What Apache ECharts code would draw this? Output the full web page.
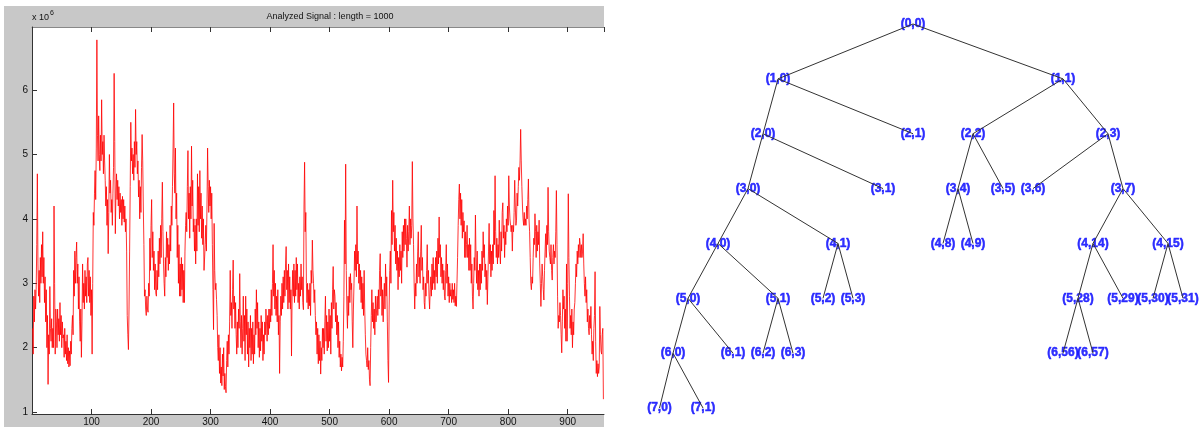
<!DOCTYPE html>
<html>
<head>
<meta charset="utf-8">
<script src="https://cdn.jsdelivr.net/npm/echarts@6/dist/echarts.min.js"></script>
<style>
  html, body { margin: 0; padding: 0; background: #fff; }
  #main { width: 1204px; height: 427px; }
</style>
</head>
<body>
<div id="main"></div>
<script>
// signal values (x 10^6), one per sample starting at sample 1
var signal = [
  2.3,1.9,2.8,2.4,2.9,2.6,2.9,3.6,4.7,3.3,2.8,3.2,2.7,3.4,3.0,3.6,3.1,3.8,3.0,3.4,
  2.7,3.1,2.4,2.9,2.0,2.5,1.43,2.2,1.9,2.95,2.3,
  2.1,2.45,2.0,2.3,2.0,4.2,3.0,1.9,2.6,
  2.4,2.0,2.6,2.2,2.45,2.1,2.7,2.2,2.5,2.0,2.4,2.15,
  2.2,1.85,2.3,1.9,2.1,1.8,2.2,1.75,2.0,1.7,1.95,1.72,2.1,1.9,2.3,
  2.5,2.2,3.2,2.8,3.5,3.0,3.4,3.64,3.0,3.3,2.6,3.1,2.4,
  2.1,2.6,1.85,2.4,3.3,2.7,
  3.0,2.6,3.2,2.8,3.1,2.7,3.3,3.4,2.8,3.2,2.7,3.1,2.5,2.9,1.9,3.0,4.1,3.9,4.4,4.75,
  4.3,5.1,6.78,5.3,4.9,5.6,5.0,4.75,5.3,4.9,5.85,5.0,5.2,4.7,5.3,4.9,4.6,4.2,4.5,3.9,
  4.3,3.46,4.1,5.0,4.4,4.6,4.1,4.3,3.9,4.4,4.8,6.26,5.2,3.77,4.4,4.7,4.3,4.6,4.2,4.5,
  4.0,4.4,4.1,4.3,3.9,4.35,4.0,4.3,3.95,4.2,3.8,4.0,3.5,2.5,2.2,1.97,2.6,3.5,4.5,5.5,
  4.9,5.1,4.7,5.0,4.6,5.2,4.8,5.7,5.0,5.2,4.7,4.9,4.34,4.6,4.0,4.5,4.1,4.8,5.31,4.9,
  4.2,3.6,2.8,2.9,2.6,2.5,2.8,2.6,2.55,3.0,2.8,3.7,3.2,3.9,4.3,3.4,3.8,3.2,3.5,2.9,
  3.3,2.85,2.8,3.2,2.9,3.5,3.1,3.7,3.3,3.9,3.4,4.0,4.57,3.8,3.3,3.0,2.8,3.4,3.1,3.8,
  3.4,3.7,3.2,3.6,3.3,3.9,3.5,4.2,3.9,4.5,5.1,5.8,4.7,
  4.4,5.1,4.0,4.4,3.4,3.9,3.0,3.6,2.8,3.3,2.8,3.4,2.9,3.3,2.7,3.2,2.7,3.5,3.9,4.1,
  3.8,4.5,5.06,4.0,4.4,3.7,4.5,4.0,5.13,4.2,4.6,3.8,4.0,3.5,3.9,3.3,4.0,3.5,4.7,3.9,
  4.5,3.8,4.75,4.0,4.4,3.7,4.2,3.6,4.0,3.2,3.18,3.6,3.9,3.5,4.2,5.1,4.5,4.1,4.6,4.2,
  4.5,4.0,4.4,3.6,2.9,2.28,3.93,3.2,2.9,3.0,2.75,2.5,2.0,1.8,2.2,1.6,2.0,1.45,1.7,1.41,
  1.9,1.56,2.0,1.35,1.6,1.4,1.3,1.8,2.1,1.7,2.2,1.9,2.4,3.2,2.5,2.7,2.3,2.9,3.36,2.6,
  2.8,2.3,2.7,2.2,1.9,2.4,2.0,2.6,2.3,3.15,2.4,2.0,2.5,1.9,2.3,2.8,2.1,2.5,1.8,2.8,
  2.2,2.6,1.9,2.4,1.7,2.3,2.0,2.5,1.8,2.3,1.9,2.4,1.75,2.2,1.9,2.6,2.2,2.9,2.3,2.7,
  2.0,2.4,1.85,2.3,1.95,2.5,2.1,2.4,1.8,2.2,1.9,2.4,2.2,2.6,2.4,
  2.1,2.5,2.2,2.6,2.3,2.6,2.4,2.9,2.5,3.0,3.6,2.8,3.2,2.6,3.0,2.5,2.8,2.4,2.9,2.2,
  2.5,1.6,2.4,2.8,2.5,3.0,2.6,3.1,2.7,3.2,2.8,3.3,3.57,2.9,3.2,2.6,3.3,2.7,3.1,2.6,
  2.9,1.87,2.8,3.2,2.8,3.3,2.7,3.2,2.8,3.4,2.9,3.3,2.7,3.0,2.6,3.1,2.8,3.3,2.9,3.1,
  2.7,2.59,4.2,4.88,3.8,4.1,3.0,2.7,3.0,2.6,2.9,2.65,3.0,2.5,3.2,3.0,3.67,3.2,3.0,2.7,
  2.9,2.5,2.2,2.4,1.9,2.3,1.75,2.2,1.8,2.1,1.59,2.0,1.8,2.3,2.0,2.3,1.9,
  2.4,2.8,2.1,2.5,1.95,2.4,2.0,2.6,2.1,2.5,1.9,2.7,2.3,2.9,3.26,2.6,2.9,2.8,2.4,2.7,
  2.2,2.5,2.0,2.4,1.85,2.1,1.7,1.9,1.64,1.85,1.7,2.1,2.8,3.98,3.3,4.85,3.2,2.6,2.3,2.8,
  2.5,3.1,2.7,3.15,2.9,3.0,2.4,2.0,2.6,3.0,3.5,3.2,3.6,3.1,4.2,3.3,3.5,3.0,3.3,2.9,
  3.2,2.7,3.1,2.6,3.0,2.5,3.2,2.6,2.2,1.9,1.8,1.7,2.0,1.66,1.8,1.5,1.41,2.0,2.5,2.9,
  2.4,2.7,2.3,2.6,2.2,2.8,2.4,2.6,2.8,2.5,2.9,2.6,3.2,3.46,2.8,3.1,2.5,2.9,2.4,2.8,
  3.0,2.6,3.3,2.8,3.1,2.4,1.8,1.46,2.6,3.2,3.5,3.0,4.13,3.6,4.6,3.8,4.1,3.5,3.9,3.3,
  3.7,3.2,3.5,2.9,3.4,3.1,3.6,3.2,3.5,3.0,3.8,3.4,3.9,3.5,4.0,3.6,4.0,3.7,3.25,3.9,
  3.5,3.8,4.2,3.6,4.0,3.7,3.9,4.89,4.0,3.6,3.0,2.6,3.0,2.8,3.3,3.0,3.5,3.8,3.1,3.4,
  3.0,3.5,3.9,3.2,3.4,2.9,3.1,2.7,2.6,3.0,2.8,3.2,3.6,3.0,3.2,2.8,2.6,2.9,3.1,2.8,
  3.3,2.9,3.4,3.0,3.2,2.9,3.4,3.1,3.5,3.0,3.7,3.3,4.03,3.4,3.6,3.1,3.4,3.0,3.3,2.9,
  3.2,2.8,2.74,3.2,3.6,3.0,3.3,2.8,3.1,2.7,3.0,2.8,2.9,2.7,3.0,2.75,2.9,2.7,3.0,2.65,
  2.8,2.64,3.0,3.4,3.9,4.3,4.54,4.0,4.4,3.9,4.3,3.7,4.1,3.8,3.97,3.4,3.8,3.4,3.6,3.9,
  3.4,3.6,3.2,3.7,
  3.2,3.6,3.0,3.3,2.8,2.6,3.0,3.4,3.2,4.06,3.4,3.0,3.5,2.9,3.2,2.8,3.3,2.9,3.3,3.0,
  3.5,3.2,3.8,3.4,3.6,3.1,3.3,2.9,3.2,2.67,3.1,3.5,3.93,3.3,3.6,3.1,3.5,3.2,3.6,3.3,
  4.13,3.6,4.67,3.8,3.4,3.7,3.3,3.6,3.4,3.98,3.5,3.3,3.8,3.5,4.1,4.25,3.7,3.9,3.4,3.8,
  3.6,4.0,3.8,4.2,3.9,4.67,4.2,4.0,3.9,3.8,3.9,3.5,3.9,3.8,4.1,4.6,4.2,3.9,3.98,4.4,
  4.2,4.5,4.8,4.6,4.9,5.39,4.9,4.5,4.2,4.0,3.9,4.1,3.9,4.0,3.9,4.2,4.0,4.3,4.62,4.0,
  3.8,3.4,3.0,2.9,3.1,3.0,3.4,3.7,3.6,4.08,3.8,3.4,3.9,3.5,3.8,3.6,3.98,3.3,3.0,2.64,
  3.0,3.3,3.1,2.9,2.74,3.2,3.5,3.77,3.4,3.9,3.6,4.49,3.8,3.5,3.4,3.3,3.6,3.2,3.05,3.4,
  3.6,3.3,3.5,3.4,3.8,4.44,3.6,2.8,2.3,2.5,2.4,2.7,2.5,2.2,1.92,2.4,2.9,2.6,2.8,2.3,
  2.6,2.1,3.3,2.1,3.0,4.39,3.4,2.8,2.3,2.5,2.2,2.6,2.0,2.4,2.2,2.6,2.7,3.0,3.3,3.1,
  3.5,3.3,3.6,3.4,3.7,3.6,3.4,3.6,3.4,3.5,3.77,3.3,3.0,2.8,3.1,2.7,2.9,2.4,2.6,2.3,
  2.2,2.5,2.3,2.64,2.2,1.9,2.1,1.8,2.3,2.5,3.18,2.1,1.6,1.8,1.55,1.75,1.6,1.7,2.64,2.2,
  1.95,1.9,2.2,2.3,1.2
];
var xTickStep = 100;
var yTickValues = [1, 2, 3, 4, 5, 6];

// wavelet packet tree: node names and their horizontal slot
var nodeNames = ['(0,0)','(1,0)','(1,1)','(2,0)','(2,1)','(2,2)','(2,3)',
  '(3,0)','(3,1)','(3,4)','(3,5)','(3,6)','(3,7)',
  '(4,0)','(4,1)','(4,8)','(4,9)','(4,14)','(4,15)',
  '(5,0)','(5,1)','(5,2)','(5,3)','(5,28)','(5,29)','(5,30)','(5,31)',
  '(6,0)','(6,1)','(6,2)','(6,3)','(6,56)','(6,57)','(7,0)','(7,1)'];
var nodeSlot = [8, 3.5, 13, 3, 8, 10, 14.5,
  2.5, 7, 9.5, 11, 12, 15,
  1.5, 5.5, 9, 10, 14, 16.5,
  0.5, 3.5, 5, 6, 13.5, 15, 16, 17,
  0, 2, 3, 4, 13, 14, -0.45, 1];

var chart = echarts.init(document.getElementById('main'), null, {renderer: 'canvas'});

var linePts = signal.map(function (v, i) { return [i + 1, v]; });

var pos = {};
var nodePts = nodeNames.map(function (n, i) {
  var dk = n.slice(1, -1).split(',').map(Number);
  pos[n] = [nodeSlot[i], dk[0]];
  return {name: n, value: [nodeSlot[i], dk[0]]};
});
var edges = [];
nodeNames.forEach(function (n) {
  var dk = n.slice(1, -1).split(',').map(Number);
  if (dk[0] === 0) return;
  var parent = '(' + (dk[0] - 1) + ',' + Math.floor(dk[1] / 2) + ')';
  edges.push({coords: [pos[parent], pos[n]]});
});

var font = '"Liberation Sans", Arial, sans-serif';

var option = {
  animation: false,
  backgroundColor: '#fff',
  graphic: [
    {type: 'rect', z: -10, silent: true, shape: {x: 4, y: 6, width: 600, height: 421}, style: {fill: '#c8c8c8'}},
    {type: 'text', x: 330, y: 17, style: {text: 'Analyzed Signal : length = 1000', font: '9px ' + font, fill: '#111', textAlign: 'center', textVerticalAlign: 'middle'}},
    {type: 'text', x: 32, y: 18, style: {text: 'x 10', font: '9px ' + font, fill: '#111', textAlign: 'left', textVerticalAlign: 'middle'}},
    {type: 'text', x: 50, y: 13, style: {text: '6', font: '7px ' + font, fill: '#111', textAlign: 'left', textVerticalAlign: 'middle'}}
  ],
  grid: [
    {left: 32, top: 27, width: 572, height: 390, show: true, backgroundColor: '#fff', borderWidth: 0},
    {left: 613, top: 0, right: 0, bottom: 0}
  ],
  xAxis: [
    {gridIndex: 0, type: 'value', min: 0, max: 961, interval: xTickStep,
      axisLine: {lineStyle: {color: '#333'}},
      axisTick: {inside: true, length: 5, lineStyle: {color: '#333'}},
      axisLabel: {showMinLabel: false, showMaxLabel: false, fontSize: 10, color: '#111', margin: 3, fontFamily: font},
      splitLine: {show: false}},
    {gridIndex: 0, type: 'value', position: 'top', min: 0, max: 961, interval: xTickStep,
      axisLine: {lineStyle: {color: '#888', width: 1}},
      axisTick: {inside: true, length: 5, lineStyle: {color: '#333'}},
      axisLabel: {show: false}, splitLine: {show: false}},
    {gridIndex: 1, type: 'value', min: -2, max: 17.7, show: false}
  ],
  yAxis: [
    {gridIndex: 0, type: 'value', min: 0.97, max: 6.98,
      axisLine: {show: true, onZero: false, lineStyle: {color: '#333'}},
      axisTick: {show: true, inside: true, length: 5, customValues: yTickValues, lineStyle: {color: '#333'}},
      axisLabel: {customValues: yTickValues, fontSize: 10, color: '#111', margin: 4, fontFamily: font},
      splitLine: {show: false}},
    {gridIndex: 1, type: 'value', inverse: true, min: -0.4375, max: 7.346, show: false}
  ],
  series: [
    {type: 'line', xAxisIndex: 0, yAxisIndex: 0, data: linePts, showSymbol: false, symbol: 'none',
      lineStyle: {color: '#ff0000', width: 0.8}, silent: true},
    {type: 'scatter', xAxisIndex: 2, yAxisIndex: 1, data: nodePts, symbolSize: 1,
      itemStyle: {color: 'rgba(0,0,0,0)'}, z: 3,
      label: {show: true, position: 'inside', formatter: '{b}', color: '#0000ff',
        textBorderColor: '#0000ff', textBorderWidth: 0.5,
        fontSize: 12, fontWeight: 'bold', fontFamily: font}},
    {type: 'lines', coordinateSystem: 'cartesian2d', xAxisIndex: 2, yAxisIndex: 1, data: edges, z: 4,
      lineStyle: {color: '#333', width: 1, opacity: 1}, silent: true}
  ]
};
chart.setOption(option);
</script>
</body>
</html>
